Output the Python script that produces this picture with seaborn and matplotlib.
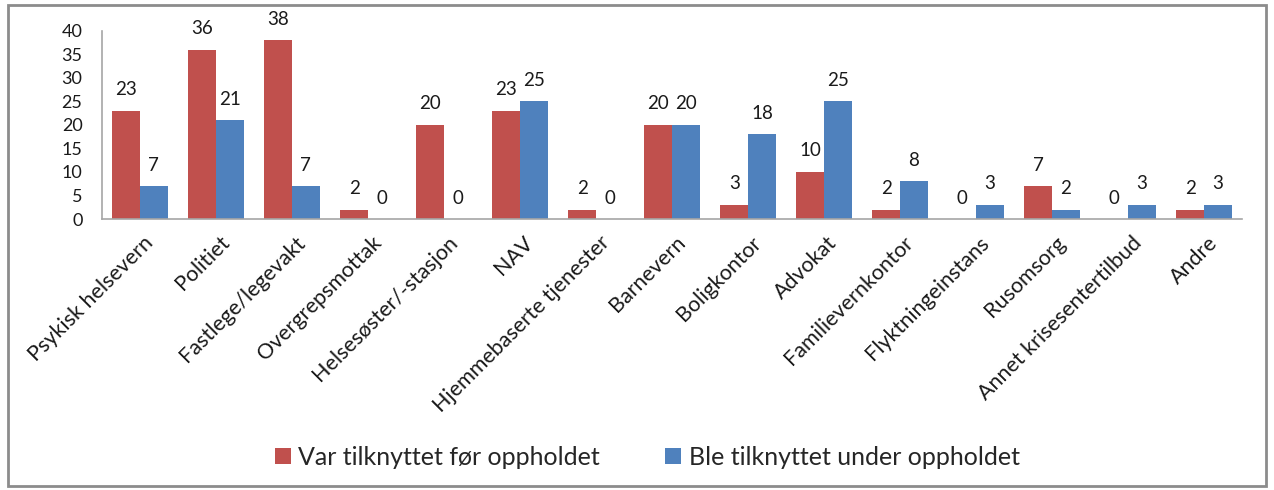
import pandas as pd
import matplotlib.pyplot as plt
import matplotlib.transforms as mtransforms
import seaborn as sns
from matplotlib.patches import Rectangle

# Data
categories = [
    "Psykisk helsevern", "Politiet", "Fastlege/legevakt", "Overgrepsmottak",
    "Helsesøster/-stasjon", "NAV", "Hjemmebaserte tjenester", "Barnevern",
    "Boligkontor", "Advokat", "Familievernkontor", "Flyktningeinstans",
    "Rusomsorg", "Annet krisesentertilbud", "Andre",
]
before = [23, 36, 38, 2, 20, 23, 2, 20, 3, 10, 2, 0, 7, 0, 2]
during = [7, 21, 7, 0, 0, 25, 0, 20, 18, 25, 8, 3, 2, 3, 3]
series_names = ["Var tilknyttet før oppholdet", "Ble tilknyttet under oppholdet"]
series_colors = ["#C0504D", "#4F81BD"]

df = pd.DataFrame({
    "Kategori": categories * 2,
    "Antall": before + during,
    "Gruppe": [series_names[0]] * len(categories) + [series_names[1]] * len(categories),
})

sns.set_style("white")
plt.rcParams["font.family"] = ["Lato", "DejaVu Sans"]

fig = plt.figure(figsize=(12.74, 4.9), dpi=100)
ax = fig.add_axes([0.080, 0.553, 0.895, 0.384])

sns.barplot(
    data=df, x="Kategori", y="Antall", hue="Gruppe",
    palette=series_colors, width=0.73, gap=0, saturation=1,
    edgecolor="none", ax=ax,
)

for cont in ax.containers:
    ax.bar_label(cont, padding=9, fontsize=13.5, color="#1a1a1a")

ax.set_ylim(0, 40)
ax.set_yticks(range(0, 41, 5))
ax.set_xlim(-0.5, len(categories) - 0.5)
ax.set_xlabel("")
ax.set_ylabel("")
ax.tick_params(axis="y", labelsize=13, pad=14, length=0, colors="#1a1a1a")
ax.tick_params(axis="x", labelsize=15.5, length=0, pad=6, colors="#1a1a1a")

# rotated category labels, nudged so their upper-right end sits at the group centre
shift = mtransforms.ScaledTranslation(3 / 100, -5 / 100, fig.dpi_scale_trans)
for lbl in ax.get_xticklabels():
    lbl.set_rotation(45)
    lbl.set_ha("right")
    lbl.set_rotation_mode("anchor")
    lbl.set_transform(lbl.get_transform() + shift)

for s in ["top", "right"]:
    ax.spines[s].set_visible(False)
for s in ["left", "bottom"]:
    ax.spines[s].set_color("#a6a6a6")
    ax.spines[s].set_linewidth(1.2)

handles, labels = ax.get_legend_handles_labels()
ax.legend_.remove()
fig.legend(
    handles, labels, loc="center", bbox_to_anchor=(0.508, 0.067), ncol=2,
    frameon=False, fontsize=18, handlelength=0.65, handleheight=0.65,
    handletextpad=0.3, columnspacing=2.6,
)

# grey outer chart border
fig.patches.append(Rectangle((0.006, 0.008), 0.988, 0.982, transform=fig.transFigure,
                             fill=False, edgecolor="#8c8c8c", linewidth=2))

fig.savefig("out.png", dpi=100)
